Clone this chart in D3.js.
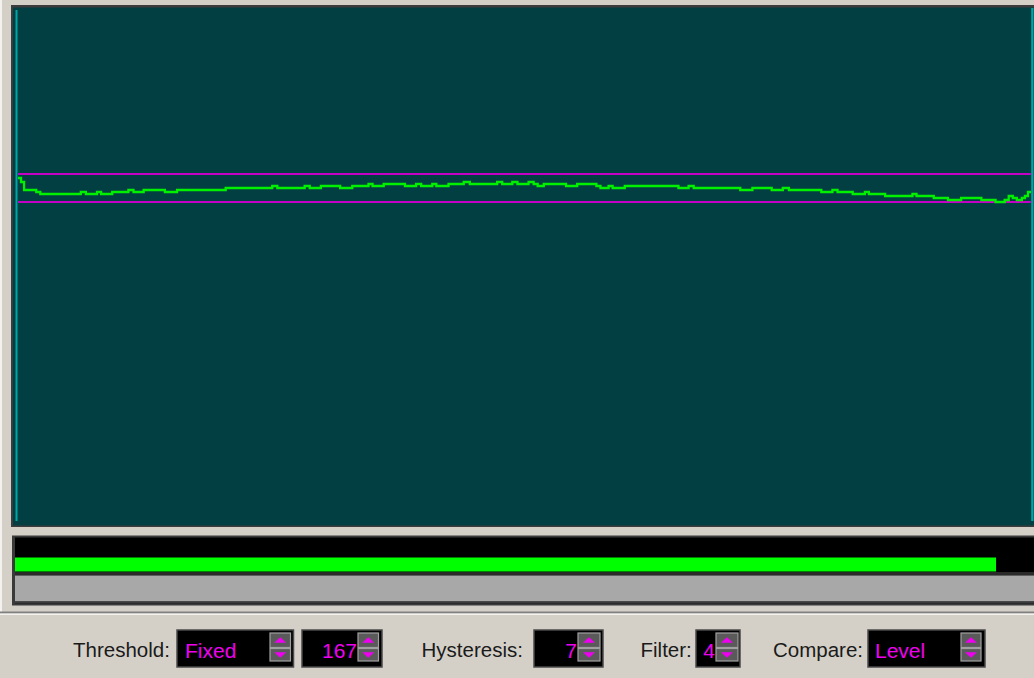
<!DOCTYPE html>
<html><head><meta charset="utf-8">
<script src="https://cdn.jsdelivr.net/npm/d3@7"></script>
<style>
body{margin:0;background:#d4d0c8;overflow:hidden;}
svg{display:block;font-family:"Liberation Sans",Arial,sans-serif;}
</style>
</head><body>
<svg id="c" width="1034" height="678"></svg>
<script>
// ---- data (time units 0..1000, level 0..255) ----
const stepTimes = [0,3,6,18,22,62,67,78,82,93,109,114,124,145,157,205,251,256,283,288,299,318,330,346,350,361,382,393,398,409,413,425,440,446,473,478,488,493,504,509,513,519,541,552,571,575,583,587,599,652,662,667,713,725,744,755,761,793,804,809,824,836,840,856,883,887,904,918,931,951,965,974,978,982,986,991,994,997];
const stepLevels = [172,170,166,165,164,165,164,165,164,165,166,165,166,165,166,167,168,167,168,167,168,167,168,169,168,169,168,169,168,169,168,169,170,169,170,169,170,169,170,169,168,169,168,169,168,167,168,167,168,167,168,167,166,167,166,167,166,165,166,165,164,165,164,163,164,163,162,161,162,161,160,161,163,162,161,162,163,165];
const timeDomain = [0, 1000];
const levelDomain = [0, 255];
const thresholdValue = 167;
const hysteresisValue = 7;
const filterValue = 4;
const meterValue = 245.5;
const thresholdMode = "Fixed";
const compareMode = "Level";
const controlLabels = ["Threshold:", "Hysteresis:", "Filter:", "Compare:"];

const svg = d3.select("#c");
const W = 1034, H = 678;

// window background
svg.append("rect").attr("width", W).attr("height", H).attr("fill", "#d4d0c8");
svg.append("rect").attr("x", 0).attr("y", 0).attr("width", 2).attr("height", 612).attr("fill", "#f4f2ee");

// plot frame
svg.append("rect").attr("x", 11).attr("y", 5).attr("width", W - 11).attr("height", 522).attr("fill", "#3c3c3c");
svg.append("rect").attr("x", 13).attr("y", 7.5).attr("width", W - 13).attr("height", 518).attr("fill", "#023f42");

const x = d3.scaleLinear().domain(timeDomain).range([18, 1031]);
const y = d3.scaleLinear().domain(levelDomain).range([522, 12]);

// cyan bounds
svg.append("rect").attr("x", x(timeDomain[0]) - 2.5).attr("y", 10).attr("width", 2).attr("height", 511).attr("fill", "#00a6a6");
svg.append("rect").attr("x", x(timeDomain[1]) + 0.2).attr("y", 8).attr("width", 2.3).attr("height", 513).attr("fill", "#00a6a6");

// hysteresis band lines
const bandLevels = [thresholdValue + hysteresisValue, thresholdValue - hysteresisValue];
svg.selectAll("line.band").data(bandLevels).join("line")
  .attr("class", "band")
  .attr("x1", x(timeDomain[0])).attr("x2", x(timeDomain[1]))
  .attr("y1", d => y(d)).attr("y2", d => y(d))
  .attr("stroke", "#c400c4").attr("stroke-width", 2);

// signal
const pts = stepTimes.map((t, i) => [t, stepLevels[i]]);
pts.push([timeDomain[1], stepLevels[stepLevels.length - 1]]);
const line = d3.line().x(d => x(d[0])).y(d => y(d[1])).curve(d3.curveStepAfter);
svg.append("path").datum(pts).attr("d", line)
  .attr("fill", "none").attr("stroke", "#00f000").attr("stroke-width", 2.3)
  .attr("stroke-linejoin", "miter");

// meter panel
svg.append("rect").attr("x", 12).attr("y", 535.5).attr("width", W - 12).attr("height", 70).attr("fill", "#3a3a3a");
svg.append("rect").attr("x", 15).attr("y", 537.5).attr("width", W - 15).attr("height", 66).attr("fill", "#000");
const m = d3.scaleLinear().domain(levelDomain).range([15, W]);
svg.append("rect").attr("x", m(0)).attr("y", 557.5).attr("width", m(meterValue) - m(0)).attr("height", 14).attr("fill", "#00ff00");
svg.append("rect").attr("x", 15).attr("y", 572).attr("width", W - 15).attr("height", 3.5).attr("fill", "#2a2a2a");
svg.append("rect").attr("x", 15).attr("y", 575.5).attr("width", W - 15).attr("height", 26).attr("fill", "#a8a8a8");
svg.append("rect").attr("x", 15).attr("y", 601.5).attr("width", W - 15).attr("height", 2).attr("fill", "#3a3a3a");

// separators
svg.append("rect").attr("x", 0).attr("y", 611.5).attr("width", W).attr("height", 2).attr("fill", "#808080");
svg.append("rect").attr("x", 0).attr("y", 613.5).attr("width", W).attr("height", 1.5).attr("fill", "#f4f2ee");

// controls
const labelX = [73, 421.5, 640.5, 773];
const g = svg.append("g");
g.selectAll("text.lbl").data(controlLabels).join("text")
  .attr("class", "lbl").attr("x", (d, i) => labelX[i]).attr("y", 657)
  .attr("font-size", 20.5).attr("fill", "#1a1a1a").text(d => d);

const boxes = [
  {x0: 177, x1: 293.5, text: thresholdMode, anchor: "start", tx: 185, s0: 270, s1: 290.5},
  {x0: 302, x1: 382, text: String(thresholdValue), anchor: "end", tx: 357, s0: 358, s1: 378.5},
  {x0: 534, x1: 603, text: String(hysteresisValue), anchor: "end", tx: 577, s0: 578, s1: 600},
  {x0: 696, x1: 740, text: String(filterValue), anchor: "end", tx: 715, s0: 716, s1: 738},
  {x0: 868, x1: 985, text: compareMode, anchor: "start", tx: 875, s0: 961, s1: 981}
];
boxes.forEach(b => {
  g.append("rect").attr("x", b.x0).attr("y", 630).attr("width", b.x1 - b.x0).attr("height", 37)
    .attr("fill", "#000").attr("stroke", "#4a4a4a").attr("stroke-width", 1.5);
  g.append("text").attr("x", b.tx).attr("y", 658).attr("text-anchor", b.anchor)
    .attr("font-size", 21).attr("fill", "#f000f0").text(b.text);
  const bw = b.s1 - b.s0;
  [[633, 14.5], [648.5, 12.5]].forEach(([by, bh], k) => {
    g.append("rect").attr("x", b.s0).attr("y", by).attr("width", bw).attr("height", bh)
      .attr("fill", "#5a5a5a").attr("stroke", "#a0a0a0").attr("stroke-width", 1.2);
    const cx = b.s0 + bw / 2, cy = by + bh / 2;
    const tri = k === 0
      ? [[cx - 6, cy + 2.5], [cx + 6, cy + 2.5], [cx, cy - 3]]
      : [[cx - 6, cy - 2.5], [cx + 6, cy - 2.5], [cx, cy + 3]];
    g.append("path").attr("d", "M" + tri.map(p => p.join(",")).join("L") + "Z").attr("fill", "#f000f0");
  });
});
</script>
</body></html>
